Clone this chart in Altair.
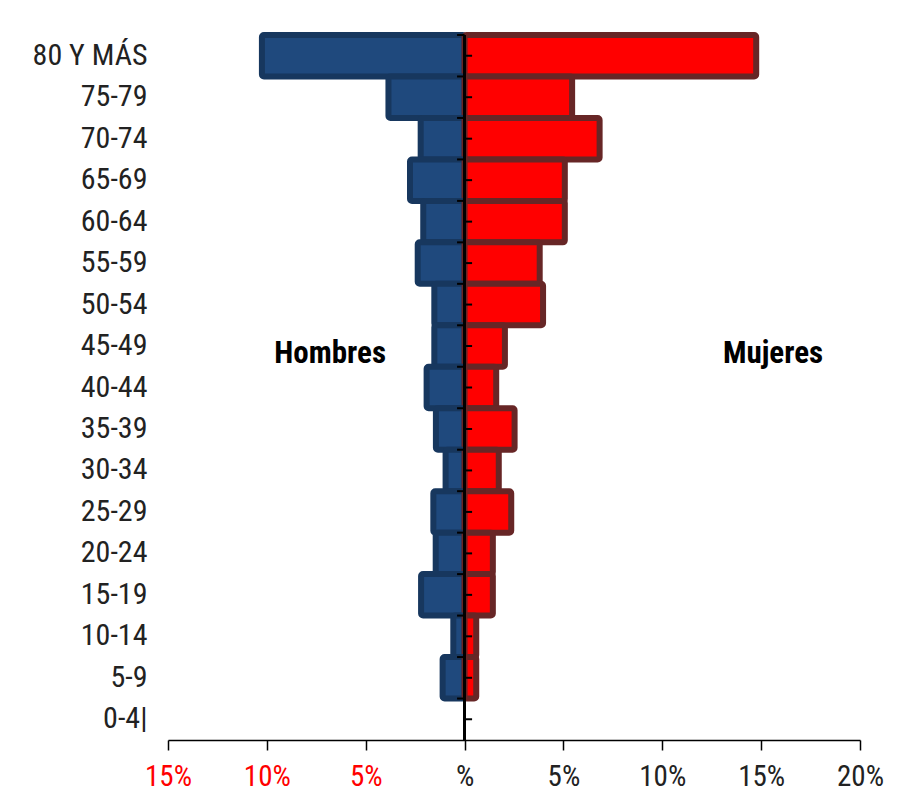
import altair as alt
import pandas as pd

ages = ["80 Y MÁS", "75-79", "70-74", "65-69", "60-64", "55-59", "50-54", "45-49",
        "40-44", "35-39", "30-34", "25-29", "20-24", "15-19", "10-14", "5-9", "0-4|"]
hombres = [10.25, 3.85, 2.22, 2.76, 2.09, 2.37, 1.53, 1.53,
           1.92, 1.45, 0.96, 1.58, 1.46, 2.20, 0.57, 1.11, 0.0]
mujeres = [14.75, 5.44, 6.83, 5.07, 5.07, 3.80, 3.97, 2.04,
           1.60, 2.53, 1.73, 2.36, 1.43, 1.43, 0.59, 0.59, 0.0]
x_ticks = [-15, -10, -5, 0, 5, 10, 15, 20]
sexes = ["Hombres", "Mujeres"]
fills = ["#1F497D", "#FF0000"]
strokes = ["#17375E", "#672626"]

rows = []
for a, h, m in zip(ages, hombres, mujeres):
    rows.append({"age": a, "sexo": "Hombres", "valor": -h, "cero": 0})
    rows.append({"age": a, "sexo": "Mujeres", "valor": m, "cero": 0})
df = pd.DataFrame(rows)
df_ages = pd.DataFrame({"age": ages})
df_lab = pd.DataFrame({"label": ["Hombres", "Mujeres"], "x": [-6.8, 15.6], "age": ["45-49", "45-49"]})

FONT = "Roboto Condensed, Liberation Sans Narrow, Liberation Sans, sans-serif"

xscale = alt.Scale(domain=[-15, 20], nice=False, zero=False)
yscale = alt.Scale(domain=ages, paddingInner=0, paddingOuter=0)

bars = alt.Chart(df).transform_filter("datum.valor != 0").mark_rect(
    strokeWidth=6, strokeJoin="round", cornerRadius=2).encode(
    x=alt.X("valor:Q", scale=xscale,
            axis=alt.Axis(values=x_ticks, title=None, grid=False, domain=True,
                          domainColor="black", domainWidth=1.5, tickColor="black",
                          tickWidth=1.5, tickSize=10, labelPadding=12, labelFlush=False,
                          labelFont=FONT, labelFontSize=29,
                          labelExpr="datum.value == 0 ? '%' : abs(datum.value) + '%'",
                          labelColor=alt.expr("datum.value < 0 ? '#FF0000' : '#222222'"))),
    x2=alt.X2("cero:Q"),
    y=alt.Y("age:N", scale=yscale, sort=ages,
            axis=alt.Axis(title=None, domain=False, ticks=False, tickSize=0, labelPadding=21,
                          labelFont=FONT, labelFontSize=30, labelColor="#222222")),
    fill=alt.Fill("sexo:N", scale=alt.Scale(domain=sexes, range=fills), legend=None),
    stroke=alt.Stroke("sexo:N", scale=alt.Scale(domain=sexes, range=strokes), legend=None),
    strokeWidth=alt.value(6),
)

center = alt.Chart(df_ages).mark_rule(color="black", strokeWidth=2).encode(
    x=alt.datum(0, scale=xscale)
)
ticks_c = alt.Chart(df_ages).mark_rule(color="black", strokeWidth=2).encode(
    x=alt.datum(0), x2=alt.datum(0.38),
    y=alt.Y("age:N", scale=yscale, sort=ages)
)
ticks_b = alt.Chart(df_ages).mark_rule(color="black", strokeWidth=2).encode(
    x=alt.datum(-0.38), x2=alt.datum(0),
    y=alt.Y("age:N", scale=yscale, sort=ages, bandPosition=0)
)
labels = alt.Chart(df_lab).mark_text(font=FONT, fontSize=31, fontWeight="bold",
                                     color="black", dy=8).encode(
    x=alt.X("x:Q"), y=alt.Y("age:N", scale=yscale, sort=ages), text="label:N"
)

chart = alt.layer(bars, center, ticks_c, ticks_b, labels).properties(
    width=692, height=705,
    autosize=alt.AutoSizeParams(type="none"),
    padding={"left": 160, "top": 27, "right": 48, "bottom": 52},
).configure_view(stroke=None)

chart.save("out.html", embed_options={"renderer": "svg", "actions": False})
